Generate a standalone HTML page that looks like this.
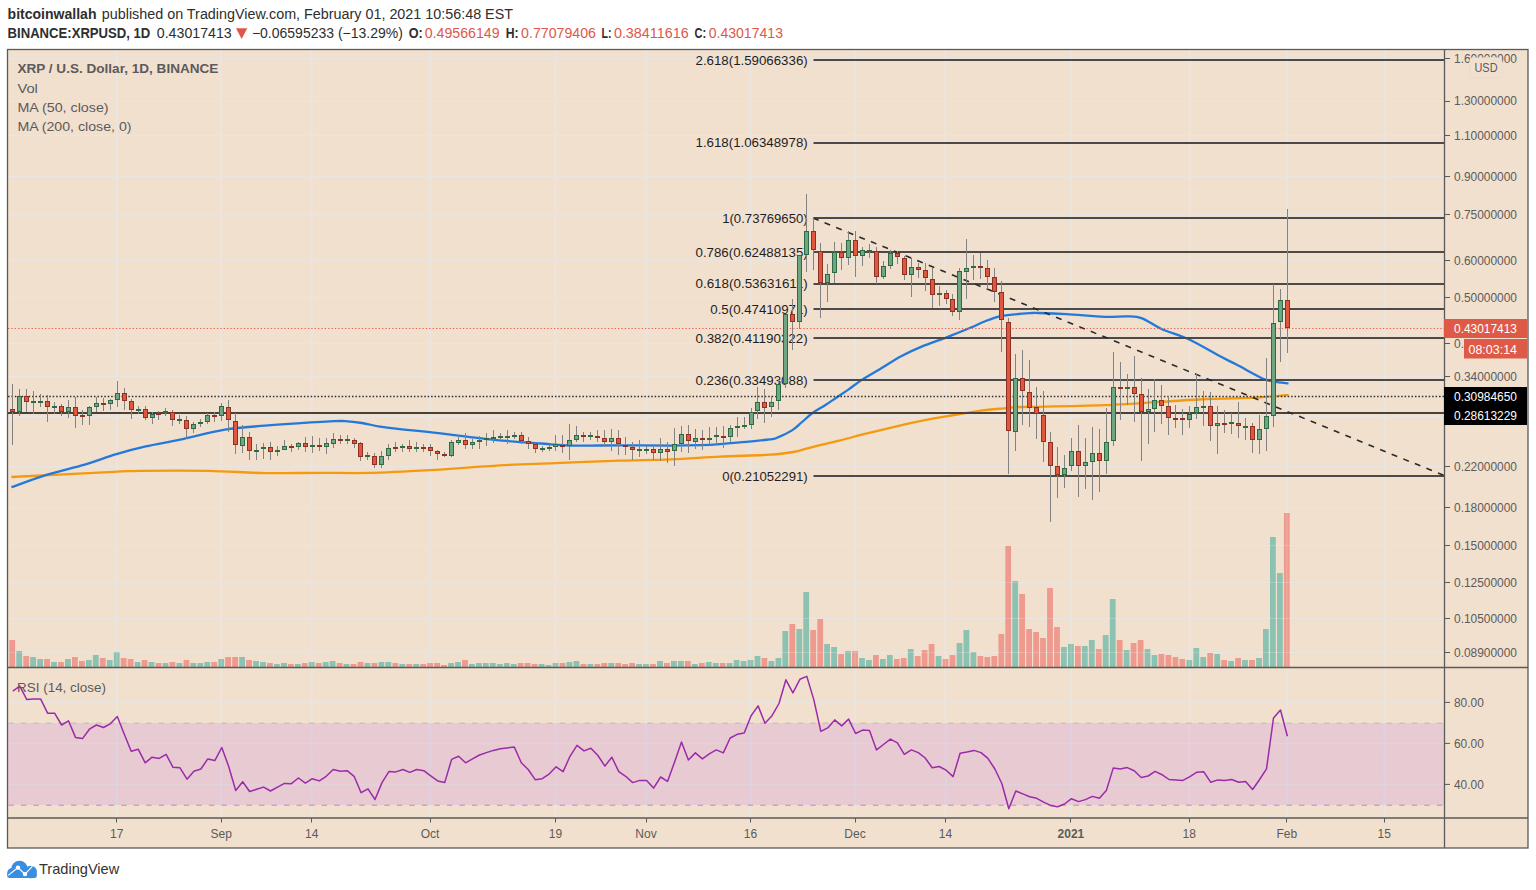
<!DOCTYPE html><html><head><meta charset="utf-8"><title>XRPUSD chart</title><style>html,body{margin:0;padding:0;background:#fff;width:1536px;height:890px;overflow:hidden}</style></head><body><svg width="1536" height="890" viewBox="0 0 1536 890" style="display:block">
<rect x="0" y="0" width="1536" height="890" fill="#ffffff"/>
<rect x="7" y="49" width="1521" height="799" fill="#f2e0cf"/>
<defs><clipPath id="pane1"><rect x="8" y="50" width="1436" height="617"/></clipPath><clipPath id="pane2"><rect x="8" y="668" width="1436" height="150"/></clipPath></defs>
<path d="M8 58.5H1444 M8 101.5H1444 M8 135.5H1444 M8 176.5H1444 M8 214.5H1444 M8 260.5H1444 M8 297.5H1444 M8 343.5H1444 M8 376.5H1444 M8 416.5H1444 M8 466.5H1444 M8 507.5H1444 M8 545.5H1444 M8 582.5H1444 M8 618.5H1444 M8 652.5H1444 M8 702.5H1444 M8 743.5H1444 M8 784.5H1444" stroke="#e9e5e2" stroke-width="1.1" fill="none"/>
<path d="M116.80 50V818 M221.30 50V818 M311.80 50V818 M430.20 50V818 M555.60 50V818 M646.10 50V818 M750.60 50V818 M855.10 50V818 M945.60 50V818 M1071.00 50V818 M1189.40 50V818 M1286.90 50V818 M1384.40 50V818" stroke="#e9e5e2" stroke-width="1.7" fill="none"/>
<rect x="8" y="723" width="1436" height="82" fill="#e8cad2"/>
<path d="M116.80 723V805" stroke="#ddd2e2" stroke-width="1.7"/>
<path d="M221.30 723V805" stroke="#ddd2e2" stroke-width="1.7"/>
<path d="M311.80 723V805" stroke="#ddd2e2" stroke-width="1.7"/>
<path d="M430.20 723V805" stroke="#ddd2e2" stroke-width="1.7"/>
<path d="M555.60 723V805" stroke="#ddd2e2" stroke-width="1.7"/>
<path d="M646.10 723V805" stroke="#ddd2e2" stroke-width="1.7"/>
<path d="M750.60 723V805" stroke="#ddd2e2" stroke-width="1.7"/>
<path d="M855.10 723V805" stroke="#ddd2e2" stroke-width="1.7"/>
<path d="M945.60 723V805" stroke="#ddd2e2" stroke-width="1.7"/>
<path d="M1071.00 723V805" stroke="#ddd2e2" stroke-width="1.7"/>
<path d="M1189.40 723V805" stroke="#ddd2e2" stroke-width="1.7"/>
<path d="M1286.90 723V805" stroke="#ddd2e2" stroke-width="1.7"/>
<path d="M1384.40 723V805" stroke="#ddd2e2" stroke-width="1.7"/>
<path d="M8 743.5H1444" stroke="#e2d2dc" stroke-width="1.3"/>
<path d="M8 784.5H1444" stroke="#e2d2dc" stroke-width="1.3"/>
<path d="M8.4 723.2H1444" stroke="#c9c3bf" stroke-width="1.6" stroke-dasharray="5.4 7.13"/>
<path d="M8.4 805.3H1444" stroke="#c9a2d2" stroke-width="1.6" stroke-dasharray="5.4 7.13"/>
<g clip-path="url(#pane1)">
<rect x="9.3" y="640.0" width="5.8" height="27.0" fill="#ee9a8e"/>
<rect x="16.3" y="651.0" width="5.8" height="16.0" fill="#8cc2b1"/>
<rect x="23.3" y="656.0" width="5.8" height="11.0" fill="#ee9a8e"/>
<rect x="30.2" y="657.0" width="5.8" height="10.0" fill="#8cc2b1"/>
<rect x="37.2" y="659.0" width="5.8" height="8.0" fill="#8cc2b1"/>
<rect x="44.1" y="659.0" width="5.8" height="8.0" fill="#ee9a8e"/>
<rect x="51.1" y="662.0" width="5.8" height="5.0" fill="#8cc2b1"/>
<rect x="58.1" y="662.0" width="5.8" height="5.0" fill="#ee9a8e"/>
<rect x="65.0" y="659.0" width="5.8" height="8.0" fill="#8cc2b1"/>
<rect x="72.0" y="657.0" width="5.8" height="10.0" fill="#ee9a8e"/>
<rect x="79.0" y="661.0" width="5.8" height="6.0" fill="#ee9a8e"/>
<rect x="85.9" y="660.0" width="5.8" height="7.0" fill="#8cc2b1"/>
<rect x="92.9" y="655.0" width="5.8" height="12.0" fill="#8cc2b1"/>
<rect x="99.9" y="658.0" width="5.8" height="9.0" fill="#ee9a8e"/>
<rect x="106.8" y="660.0" width="5.8" height="7.0" fill="#8cc2b1"/>
<rect x="113.8" y="652.0" width="5.8" height="15.0" fill="#8cc2b1"/>
<rect x="120.8" y="658.0" width="5.8" height="9.0" fill="#ee9a8e"/>
<rect x="127.7" y="659.0" width="5.8" height="8.0" fill="#ee9a8e"/>
<rect x="134.7" y="662.0" width="5.8" height="5.0" fill="#8cc2b1"/>
<rect x="141.7" y="660.0" width="5.8" height="7.0" fill="#ee9a8e"/>
<rect x="148.6" y="662.0" width="5.8" height="5.0" fill="#8cc2b1"/>
<rect x="155.6" y="663.0" width="5.8" height="4.0" fill="#ee9a8e"/>
<rect x="162.6" y="663.0" width="5.8" height="4.0" fill="#8cc2b1"/>
<rect x="169.5" y="662.0" width="5.8" height="5.0" fill="#ee9a8e"/>
<rect x="176.5" y="663.0" width="5.8" height="4.0" fill="#8cc2b1"/>
<rect x="183.5" y="660.0" width="5.8" height="7.0" fill="#ee9a8e"/>
<rect x="190.4" y="663.0" width="5.8" height="4.0" fill="#8cc2b1"/>
<rect x="197.4" y="663.0" width="5.8" height="4.0" fill="#8cc2b1"/>
<rect x="204.3" y="662.0" width="5.8" height="5.0" fill="#8cc2b1"/>
<rect x="211.3" y="662.0" width="5.8" height="5.0" fill="#ee9a8e"/>
<rect x="218.3" y="659.0" width="5.8" height="8.0" fill="#8cc2b1"/>
<rect x="225.2" y="657.0" width="5.8" height="10.0" fill="#ee9a8e"/>
<rect x="232.2" y="657.0" width="5.8" height="10.0" fill="#ee9a8e"/>
<rect x="239.2" y="657.0" width="5.8" height="10.0" fill="#8cc2b1"/>
<rect x="246.1" y="660.0" width="5.8" height="7.0" fill="#ee9a8e"/>
<rect x="253.1" y="661.0" width="5.8" height="6.0" fill="#8cc2b1"/>
<rect x="260.1" y="662.0" width="5.8" height="5.0" fill="#8cc2b1"/>
<rect x="267.0" y="663.0" width="5.8" height="4.0" fill="#ee9a8e"/>
<rect x="274.0" y="664.0" width="5.8" height="3.0" fill="#8cc2b1"/>
<rect x="281.0" y="663.0" width="5.8" height="4.0" fill="#8cc2b1"/>
<rect x="287.9" y="664.0" width="5.8" height="3.0" fill="#ee9a8e"/>
<rect x="294.9" y="664.0" width="5.8" height="3.0" fill="#8cc2b1"/>
<rect x="301.9" y="663.0" width="5.8" height="4.0" fill="#ee9a8e"/>
<rect x="308.8" y="662.0" width="5.8" height="5.0" fill="#8cc2b1"/>
<rect x="315.8" y="663.0" width="5.8" height="4.0" fill="#ee9a8e"/>
<rect x="322.8" y="662.0" width="5.8" height="5.0" fill="#8cc2b1"/>
<rect x="329.7" y="661.0" width="5.8" height="6.0" fill="#8cc2b1"/>
<rect x="336.7" y="663.0" width="5.8" height="4.0" fill="#ee9a8e"/>
<rect x="343.6" y="664.0" width="5.8" height="3.0" fill="#8cc2b1"/>
<rect x="350.6" y="664.0" width="5.8" height="3.0" fill="#ee9a8e"/>
<rect x="357.6" y="662.0" width="5.8" height="5.0" fill="#ee9a8e"/>
<rect x="364.5" y="663.0" width="5.8" height="4.0" fill="#8cc2b1"/>
<rect x="371.5" y="663.0" width="5.8" height="4.0" fill="#ee9a8e"/>
<rect x="378.5" y="662.0" width="5.8" height="5.0" fill="#8cc2b1"/>
<rect x="385.4" y="662.0" width="5.8" height="5.0" fill="#8cc2b1"/>
<rect x="392.4" y="663.0" width="5.8" height="4.0" fill="#ee9a8e"/>
<rect x="399.4" y="664.0" width="5.8" height="3.0" fill="#8cc2b1"/>
<rect x="406.3" y="664.0" width="5.8" height="3.0" fill="#ee9a8e"/>
<rect x="413.3" y="664.0" width="5.8" height="3.0" fill="#8cc2b1"/>
<rect x="420.3" y="664.0" width="5.8" height="3.0" fill="#ee9a8e"/>
<rect x="427.2" y="663.0" width="5.8" height="4.0" fill="#ee9a8e"/>
<rect x="434.2" y="663.0" width="5.8" height="4.0" fill="#ee9a8e"/>
<rect x="441.2" y="665.0" width="5.8" height="2.0" fill="#ee9a8e"/>
<rect x="448.1" y="663.0" width="5.8" height="4.0" fill="#8cc2b1"/>
<rect x="455.1" y="662.0" width="5.8" height="5.0" fill="#8cc2b1"/>
<rect x="462.1" y="660.0" width="5.8" height="7.0" fill="#ee9a8e"/>
<rect x="469.0" y="664.0" width="5.8" height="3.0" fill="#8cc2b1"/>
<rect x="476.0" y="663.0" width="5.8" height="4.0" fill="#8cc2b1"/>
<rect x="482.9" y="663.0" width="5.8" height="4.0" fill="#8cc2b1"/>
<rect x="489.9" y="663.0" width="5.8" height="4.0" fill="#8cc2b1"/>
<rect x="496.9" y="664.0" width="5.8" height="3.0" fill="#8cc2b1"/>
<rect x="503.8" y="663.0" width="5.8" height="4.0" fill="#8cc2b1"/>
<rect x="510.8" y="664.0" width="5.8" height="3.0" fill="#8cc2b1"/>
<rect x="517.8" y="663.0" width="5.8" height="4.0" fill="#ee9a8e"/>
<rect x="524.7" y="663.0" width="5.8" height="4.0" fill="#ee9a8e"/>
<rect x="531.7" y="664.0" width="5.8" height="3.0" fill="#ee9a8e"/>
<rect x="538.7" y="664.0" width="5.8" height="3.0" fill="#8cc2b1"/>
<rect x="545.6" y="665.0" width="5.8" height="2.0" fill="#8cc2b1"/>
<rect x="552.6" y="663.0" width="5.8" height="4.0" fill="#8cc2b1"/>
<rect x="559.6" y="663.0" width="5.8" height="4.0" fill="#ee9a8e"/>
<rect x="566.5" y="662.0" width="5.8" height="5.0" fill="#8cc2b1"/>
<rect x="573.5" y="661.0" width="5.8" height="6.0" fill="#8cc2b1"/>
<rect x="580.5" y="664.0" width="5.8" height="3.0" fill="#ee9a8e"/>
<rect x="587.4" y="664.0" width="5.8" height="3.0" fill="#8cc2b1"/>
<rect x="594.4" y="664.0" width="5.8" height="3.0" fill="#ee9a8e"/>
<rect x="601.4" y="663.0" width="5.8" height="4.0" fill="#ee9a8e"/>
<rect x="608.3" y="663.0" width="5.8" height="4.0" fill="#8cc2b1"/>
<rect x="615.3" y="663.0" width="5.8" height="4.0" fill="#ee9a8e"/>
<rect x="622.2" y="664.0" width="5.8" height="3.0" fill="#ee9a8e"/>
<rect x="629.2" y="663.0" width="5.8" height="4.0" fill="#ee9a8e"/>
<rect x="636.2" y="664.0" width="5.8" height="3.0" fill="#8cc2b1"/>
<rect x="643.1" y="664.0" width="5.8" height="3.0" fill="#8cc2b1"/>
<rect x="650.1" y="664.0" width="5.8" height="3.0" fill="#ee9a8e"/>
<rect x="657.1" y="661.0" width="5.8" height="6.0" fill="#8cc2b1"/>
<rect x="664.0" y="663.0" width="5.8" height="4.0" fill="#ee9a8e"/>
<rect x="671.0" y="661.0" width="5.8" height="6.0" fill="#8cc2b1"/>
<rect x="678.0" y="661.0" width="5.8" height="6.0" fill="#8cc2b1"/>
<rect x="684.9" y="661.0" width="5.8" height="6.0" fill="#ee9a8e"/>
<rect x="691.9" y="664.0" width="5.8" height="3.0" fill="#8cc2b1"/>
<rect x="698.9" y="663.0" width="5.8" height="4.0" fill="#ee9a8e"/>
<rect x="705.8" y="662.0" width="5.8" height="5.0" fill="#8cc2b1"/>
<rect x="712.8" y="663.0" width="5.8" height="4.0" fill="#8cc2b1"/>
<rect x="719.8" y="663.0" width="5.8" height="4.0" fill="#ee9a8e"/>
<rect x="726.7" y="663.0" width="5.8" height="4.0" fill="#8cc2b1"/>
<rect x="733.7" y="660.0" width="5.8" height="7.0" fill="#8cc2b1"/>
<rect x="740.7" y="661.0" width="5.8" height="6.0" fill="#8cc2b1"/>
<rect x="747.6" y="660.0" width="5.8" height="7.0" fill="#8cc2b1"/>
<rect x="754.6" y="656.0" width="5.8" height="11.0" fill="#8cc2b1"/>
<rect x="761.5" y="658.0" width="5.8" height="9.0" fill="#ee9a8e"/>
<rect x="768.5" y="661.0" width="5.8" height="6.0" fill="#8cc2b1"/>
<rect x="775.5" y="658.0" width="5.8" height="9.0" fill="#8cc2b1"/>
<rect x="782.4" y="631.0" width="5.8" height="36.0" fill="#8cc2b1"/>
<rect x="789.4" y="624.0" width="5.8" height="43.0" fill="#ee9a8e"/>
<rect x="796.4" y="629.0" width="5.8" height="38.0" fill="#8cc2b1"/>
<rect x="803.3" y="592.0" width="5.8" height="75.0" fill="#8cc2b1"/>
<rect x="810.3" y="630.0" width="5.8" height="37.0" fill="#ee9a8e"/>
<rect x="817.3" y="619.0" width="5.8" height="48.0" fill="#ee9a8e"/>
<rect x="824.2" y="644.0" width="5.8" height="23.0" fill="#8cc2b1"/>
<rect x="831.2" y="647.0" width="5.8" height="20.0" fill="#8cc2b1"/>
<rect x="838.2" y="654.0" width="5.8" height="13.0" fill="#ee9a8e"/>
<rect x="845.1" y="651.0" width="5.8" height="16.0" fill="#8cc2b1"/>
<rect x="852.1" y="651.0" width="5.8" height="16.0" fill="#ee9a8e"/>
<rect x="859.1" y="658.0" width="5.8" height="9.0" fill="#8cc2b1"/>
<rect x="866.0" y="660.0" width="5.8" height="7.0" fill="#8cc2b1"/>
<rect x="873.0" y="655.0" width="5.8" height="12.0" fill="#ee9a8e"/>
<rect x="880.0" y="659.0" width="5.8" height="8.0" fill="#8cc2b1"/>
<rect x="886.9" y="655.0" width="5.8" height="12.0" fill="#8cc2b1"/>
<rect x="893.9" y="659.0" width="5.8" height="8.0" fill="#ee9a8e"/>
<rect x="900.8" y="658.0" width="5.8" height="9.0" fill="#ee9a8e"/>
<rect x="907.8" y="649.0" width="5.8" height="18.0" fill="#8cc2b1"/>
<rect x="914.8" y="656.0" width="5.8" height="11.0" fill="#ee9a8e"/>
<rect x="921.7" y="650.0" width="5.8" height="17.0" fill="#ee9a8e"/>
<rect x="928.7" y="644.0" width="5.8" height="23.0" fill="#ee9a8e"/>
<rect x="935.7" y="656.0" width="5.8" height="11.0" fill="#8cc2b1"/>
<rect x="942.6" y="659.0" width="5.8" height="8.0" fill="#ee9a8e"/>
<rect x="949.6" y="655.0" width="5.8" height="12.0" fill="#ee9a8e"/>
<rect x="956.6" y="643.0" width="5.8" height="24.0" fill="#8cc2b1"/>
<rect x="963.5" y="630.0" width="5.8" height="37.0" fill="#8cc2b1"/>
<rect x="970.5" y="652.0" width="5.8" height="15.0" fill="#8cc2b1"/>
<rect x="977.5" y="656.0" width="5.8" height="11.0" fill="#ee9a8e"/>
<rect x="984.4" y="657.0" width="5.8" height="10.0" fill="#ee9a8e"/>
<rect x="991.4" y="656.0" width="5.8" height="11.0" fill="#ee9a8e"/>
<rect x="998.4" y="634.0" width="5.8" height="33.0" fill="#ee9a8e"/>
<rect x="1005.3" y="546.0" width="5.8" height="121.0" fill="#ee9a8e"/>
<rect x="1012.3" y="581.0" width="5.8" height="86.0" fill="#8cc2b1"/>
<rect x="1019.2" y="594.0" width="5.8" height="73.0" fill="#ee9a8e"/>
<rect x="1026.2" y="629.0" width="5.8" height="38.0" fill="#ee9a8e"/>
<rect x="1033.2" y="632.0" width="5.8" height="35.0" fill="#ee9a8e"/>
<rect x="1040.1" y="638.0" width="5.8" height="29.0" fill="#ee9a8e"/>
<rect x="1047.1" y="588.0" width="5.8" height="79.0" fill="#ee9a8e"/>
<rect x="1054.1" y="627.0" width="5.8" height="40.0" fill="#ee9a8e"/>
<rect x="1061.0" y="647.0" width="5.8" height="20.0" fill="#8cc2b1"/>
<rect x="1068.0" y="644.0" width="5.8" height="23.0" fill="#8cc2b1"/>
<rect x="1075.0" y="646.0" width="5.8" height="21.0" fill="#ee9a8e"/>
<rect x="1081.9" y="646.0" width="5.8" height="21.0" fill="#8cc2b1"/>
<rect x="1088.9" y="640.0" width="5.8" height="27.0" fill="#8cc2b1"/>
<rect x="1095.9" y="649.0" width="5.8" height="18.0" fill="#ee9a8e"/>
<rect x="1102.8" y="635.0" width="5.8" height="32.0" fill="#8cc2b1"/>
<rect x="1109.8" y="599.0" width="5.8" height="68.0" fill="#8cc2b1"/>
<rect x="1116.8" y="640.0" width="5.8" height="27.0" fill="#ee9a8e"/>
<rect x="1123.7" y="650.0" width="5.8" height="17.0" fill="#8cc2b1"/>
<rect x="1130.7" y="643.0" width="5.8" height="24.0" fill="#ee9a8e"/>
<rect x="1137.7" y="640.0" width="5.8" height="27.0" fill="#ee9a8e"/>
<rect x="1144.6" y="649.0" width="5.8" height="18.0" fill="#8cc2b1"/>
<rect x="1151.6" y="655.0" width="5.8" height="12.0" fill="#8cc2b1"/>
<rect x="1158.5" y="654.0" width="5.8" height="13.0" fill="#ee9a8e"/>
<rect x="1165.5" y="655.0" width="5.8" height="12.0" fill="#ee9a8e"/>
<rect x="1172.5" y="657.0" width="5.8" height="10.0" fill="#ee9a8e"/>
<rect x="1179.4" y="659.0" width="5.8" height="8.0" fill="#ee9a8e"/>
<rect x="1186.4" y="660.0" width="5.8" height="7.0" fill="#8cc2b1"/>
<rect x="1193.4" y="648.0" width="5.8" height="19.0" fill="#8cc2b1"/>
<rect x="1200.3" y="657.0" width="5.8" height="10.0" fill="#8cc2b1"/>
<rect x="1207.3" y="653.0" width="5.8" height="14.0" fill="#ee9a8e"/>
<rect x="1214.3" y="654.0" width="5.8" height="13.0" fill="#8cc2b1"/>
<rect x="1221.2" y="660.0" width="5.8" height="7.0" fill="#ee9a8e"/>
<rect x="1228.2" y="661.0" width="5.8" height="6.0" fill="#8cc2b1"/>
<rect x="1235.2" y="658.0" width="5.8" height="9.0" fill="#ee9a8e"/>
<rect x="1242.1" y="660.0" width="5.8" height="7.0" fill="#8cc2b1"/>
<rect x="1249.1" y="660.0" width="5.8" height="7.0" fill="#ee9a8e"/>
<rect x="1256.1" y="658.0" width="5.8" height="9.0" fill="#8cc2b1"/>
<rect x="1263.0" y="629.0" width="5.8" height="38.0" fill="#8cc2b1"/>
<rect x="1270.0" y="537.0" width="5.8" height="130.0" fill="#8cc2b1"/>
<rect x="1277.0" y="573.0" width="5.8" height="94.0" fill="#8cc2b1"/>
<rect x="1283.9" y="513.0" width="5.8" height="154.0" fill="#ee9a8e"/>
<path d="M8 507.5H1444 M8 545.5H1444 M8 582.5H1444 M8 618.5H1444 M8 652.5H1444 M116.80 500V667 M221.30 500V667 M311.80 500V667 M430.20 500V667 M555.60 500V667 M646.10 500V667 M750.60 500V667 M855.10 500V667 M945.60 500V667 M1071.00 500V667 M1189.40 500V667 M1286.90 500V667 M1384.40 500V667" stroke="#ece6e2" stroke-width="1" opacity="0.3" fill="none"/>
<path d="M11.4 477.0 C28.4 476.1 91.8 472.9 113.3 471.9 C134.8 470.9 124.6 471.0 140.4 470.8 C156.2 470.6 187.3 470.4 208.1 470.8 C228.9 471.2 246.3 472.8 265.0 473.1 C283.6 473.4 302.5 472.8 320.0 472.8 C337.5 472.8 351.7 473.3 370.0 472.9 C388.3 472.5 408.3 471.4 430.0 470.2 C451.7 468.9 479.2 466.6 500.0 465.4 C520.8 464.2 535.0 464.0 555.0 463.2 C575.0 462.4 600.7 461.3 620.0 460.7 C639.3 460.1 654.3 460.0 671.0 459.3 C687.7 458.6 703.5 457.4 720.0 456.6 C736.5 455.8 757.8 455.5 770.0 454.7 C782.2 453.9 785.6 453.5 793.4 452.0 C801.2 450.5 809.1 447.8 816.9 445.8 C824.7 443.9 832.5 442.2 840.3 440.3 C848.1 438.4 856.0 436.1 863.8 434.1 C871.6 432.2 879.4 430.4 887.2 428.6 C895.0 426.8 902.8 424.8 910.6 423.1 C918.4 421.4 926.2 419.8 934.0 418.4 C941.8 417.0 949.7 415.8 957.5 414.5 C965.3 413.2 973.1 411.6 980.9 410.6 C988.7 409.6 997.9 408.9 1004.4 408.3 C1010.9 407.7 1003.3 407.5 1020.0 407.0 C1036.7 406.5 1074.6 406.4 1104.4 405.2 C1134.2 403.9 1173.6 400.8 1198.8 399.5 C1224.0 398.2 1240.5 398.4 1255.4 397.6 C1270.4 396.8 1283.0 395.3 1288.5 394.8" stroke="#f5990f" stroke-width="2.3" fill="none" stroke-linejoin="round"/>
<path d="M11.4 487.2 C17.4 485.1 35.0 478.4 47.2 474.6 C59.4 470.8 73.2 468.0 84.7 464.6 C96.2 461.2 106.2 457.1 116.4 454.1 C126.6 451.1 135.1 448.8 145.7 446.4 C156.3 444.0 166.8 442.5 180.0 439.7 C193.2 436.9 210.8 431.9 225.0 429.6 C239.2 427.3 250.7 426.9 265.0 425.7 C279.3 424.5 300.2 423.1 311.0 422.4 C321.8 421.7 324.3 421.6 330.0 421.4 C335.7 421.2 339.7 420.8 345.0 421.1 C350.3 421.4 356.2 422.1 362.0 423.0 C367.8 423.9 373.7 425.6 380.0 426.6 C386.3 427.6 391.7 428.3 400.0 429.2 C408.3 430.1 415.0 430.5 430.0 432.2 C445.0 433.9 471.6 437.5 490.0 439.4 C508.4 441.3 526.5 442.5 540.5 443.5 C554.5 444.5 560.8 445.3 574.0 445.6 C587.2 445.9 603.8 445.3 620.0 445.3 C636.2 445.3 657.5 445.6 671.0 445.6 C684.5 445.6 692.8 445.4 701.0 445.2 C709.2 444.9 713.5 444.6 720.0 444.1 C726.5 443.6 731.7 443.2 740.0 442.4 C748.3 441.6 763.7 440.2 770.0 439.4 C776.3 438.6 774.2 438.9 777.9 437.4 C781.6 435.9 788.1 432.9 792.0 430.4 C795.9 427.9 798.1 425.4 801.5 422.5 C804.9 419.6 808.6 415.9 812.5 413.0 C816.4 410.1 821.0 407.8 825.1 405.2 C829.2 402.6 833.0 399.9 836.9 397.3 C840.8 394.7 844.4 392.4 848.7 389.4 C853.0 386.4 857.0 383.0 862.6 379.4 C868.2 375.8 875.6 371.6 882.1 367.7 C888.6 363.8 895.1 359.5 901.6 356.0 C908.1 352.5 913.5 350.0 921.1 346.9 C928.7 343.8 939.6 340.0 947.2 337.1 C954.8 334.2 960.2 332.0 966.7 329.3 C973.2 326.6 980.9 323.0 986.3 320.8 C991.7 318.6 995.0 317.3 999.3 316.3 C1003.6 315.3 1007.2 315.1 1012.3 314.6 C1017.4 314.1 1025.7 313.5 1030.0 313.2 C1034.3 312.9 1032.2 312.8 1038.3 313.0 C1044.4 313.2 1055.6 313.6 1066.6 314.2 C1077.6 314.8 1094.3 316.4 1104.4 316.8 C1114.5 317.2 1120.7 316.1 1127.0 316.4 C1133.3 316.6 1136.5 316.2 1142.2 318.3 C1147.9 320.4 1153.2 325.2 1161.0 328.7 C1168.8 332.2 1179.8 335.1 1189.3 339.5 C1198.8 343.9 1209.8 350.9 1217.7 355.1 C1225.6 359.3 1229.0 360.7 1236.5 364.6 C1244.0 368.5 1256.7 375.9 1263.0 378.7 C1269.3 381.5 1270.0 380.8 1274.3 381.6 C1278.5 382.4 1286.1 383.1 1288.5 383.4" stroke="#2279da" stroke-width="2.3" fill="none" stroke-linejoin="round"/>
<path d="M8 413H1444" stroke="#46413e" stroke-width="2"/>
<path d="M8 396.5H1444" stroke="#2e2e2e" stroke-width="1.4" stroke-dasharray="1.5 1.94"/>
<path d="M8 328.5H1444" stroke="#e4604e" stroke-width="1.2" stroke-dasharray="1.3 2.07"/>
<path d="M813.5 60H1444" stroke="#4b4a49" stroke-width="2"/>
<text x="695.5" y="64.6" font-family='"Liberation Sans", sans-serif' font-size="12.6" fill="#1e1e1e" textLength="112.2" lengthAdjust="spacingAndGlyphs">2.618(1.59066336)</text>
<path d="M813.5 143H1444" stroke="#4b4a49" stroke-width="2"/>
<text x="695.5" y="147.4" font-family='"Liberation Sans", sans-serif' font-size="12.6" fill="#1e1e1e" textLength="112.2" lengthAdjust="spacingAndGlyphs">1.618(1.06348978)</text>
<path d="M813.5 218H1444" stroke="#4b4a49" stroke-width="2"/>
<text x="722.2" y="222.7" font-family='"Liberation Sans", sans-serif' font-size="12.6" fill="#1e1e1e" textLength="85.5" lengthAdjust="spacingAndGlyphs">1(0.73769650)</text>
<path d="M813.5 252H1444" stroke="#4b4a49" stroke-width="2"/>
<text x="695.5" y="256.8" font-family='"Liberation Sans", sans-serif' font-size="12.6" fill="#1e1e1e" textLength="112.2" lengthAdjust="spacingAndGlyphs">0.786(0.62488135)</text>
<path d="M813.5 284H1444" stroke="#4b4a49" stroke-width="2"/>
<text x="695.5" y="288.2" font-family='"Liberation Sans", sans-serif' font-size="12.6" fill="#1e1e1e" textLength="112.2" lengthAdjust="spacingAndGlyphs">0.618(0.53631611)</text>
<path d="M813.5 309H1444" stroke="#4b4a49" stroke-width="2"/>
<text x="710.3" y="313.6" font-family='"Liberation Sans", sans-serif' font-size="12.6" fill="#1e1e1e" textLength="97.4" lengthAdjust="spacingAndGlyphs">0.5(0.47410971)</text>
<path d="M813.5 338H1444" stroke="#4b4a49" stroke-width="2"/>
<text x="695.5" y="342.5" font-family='"Liberation Sans", sans-serif' font-size="12.6" fill="#1e1e1e" textLength="112.2" lengthAdjust="spacingAndGlyphs">0.382(0.41190322)</text>
<path d="M813.5 380H1444" stroke="#4b4a49" stroke-width="2"/>
<text x="695.5" y="385.1" font-family='"Liberation Sans", sans-serif' font-size="12.6" fill="#1e1e1e" textLength="112.2" lengthAdjust="spacingAndGlyphs">0.236(0.33493088)</text>
<path d="M813.5 476H1444" stroke="#4b4a49" stroke-width="2"/>
<text x="722.2" y="480.6" font-family='"Liberation Sans", sans-serif' font-size="12.6" fill="#1e1e1e" textLength="85.5" lengthAdjust="spacingAndGlyphs">0(0.21052291)</text>
<path d="M813 218L1444 475.5" stroke="#2b2b2b" stroke-width="1.6" stroke-dasharray="6 6.5"/>
<path d="M12.5 384V445" stroke="#828282" stroke-width="1"/>
<path d="M19.5 389V416" stroke="#828282" stroke-width="1"/>
<path d="M26.5 389V412" stroke="#828282" stroke-width="1"/>
<path d="M33.5 391V414" stroke="#828282" stroke-width="1"/>
<path d="M40.5 394V407" stroke="#828282" stroke-width="1"/>
<path d="M47.5 395V422" stroke="#828282" stroke-width="1"/>
<path d="M54.5 402V414" stroke="#828282" stroke-width="1"/>
<path d="M61.5 404V416" stroke="#828282" stroke-width="1"/>
<path d="M68.5 400V418" stroke="#828282" stroke-width="1"/>
<path d="M75.5 397V428" stroke="#828282" stroke-width="1"/>
<path d="M82.5 410V425" stroke="#828282" stroke-width="1"/>
<path d="M89.5 406V425" stroke="#828282" stroke-width="1"/>
<path d="M96.5 397V412" stroke="#828282" stroke-width="1"/>
<path d="M103.5 398V411" stroke="#828282" stroke-width="1"/>
<path d="M110.5 399V410" stroke="#828282" stroke-width="1"/>
<path d="M117.5 381V407" stroke="#828282" stroke-width="1"/>
<path d="M124.5 388V410" stroke="#828282" stroke-width="1"/>
<path d="M131.5 399V419" stroke="#828282" stroke-width="1"/>
<path d="M138.5 406V414" stroke="#828282" stroke-width="1"/>
<path d="M145.5 406V420" stroke="#828282" stroke-width="1"/>
<path d="M152.5 412V424" stroke="#828282" stroke-width="1"/>
<path d="M158.5 411V420" stroke="#828282" stroke-width="1"/>
<path d="M165.5 408V416" stroke="#828282" stroke-width="1"/>
<path d="M172.5 410V426" stroke="#828282" stroke-width="1"/>
<path d="M179.5 415V424" stroke="#828282" stroke-width="1"/>
<path d="M186.5 416V439" stroke="#828282" stroke-width="1"/>
<path d="M193.5 422V433" stroke="#828282" stroke-width="1"/>
<path d="M200.5 419V427" stroke="#828282" stroke-width="1"/>
<path d="M207.5 413V424" stroke="#828282" stroke-width="1"/>
<path d="M214.5 412V422" stroke="#828282" stroke-width="1"/>
<path d="M221.5 403V421" stroke="#828282" stroke-width="1"/>
<path d="M228.5 400V432" stroke="#828282" stroke-width="1"/>
<path d="M235.5 413V454" stroke="#828282" stroke-width="1"/>
<path d="M242.5 425V453" stroke="#828282" stroke-width="1"/>
<path d="M249.5 432V460" stroke="#828282" stroke-width="1"/>
<path d="M256.5 444V460" stroke="#828282" stroke-width="1"/>
<path d="M263.5 443V459" stroke="#828282" stroke-width="1"/>
<path d="M270.5 442V460" stroke="#828282" stroke-width="1"/>
<path d="M277.5 446V456" stroke="#828282" stroke-width="1"/>
<path d="M284.5 440V450" stroke="#828282" stroke-width="1"/>
<path d="M291.5 444V452" stroke="#828282" stroke-width="1"/>
<path d="M298.5 442V450" stroke="#828282" stroke-width="1"/>
<path d="M305.5 437V452" stroke="#828282" stroke-width="1"/>
<path d="M312.5 436V453" stroke="#828282" stroke-width="1"/>
<path d="M319.5 438V451" stroke="#828282" stroke-width="1"/>
<path d="M326.5 438V454" stroke="#828282" stroke-width="1"/>
<path d="M333.5 433V448" stroke="#828282" stroke-width="1"/>
<path d="M340.5 435V444" stroke="#828282" stroke-width="1"/>
<path d="M347.5 435V444" stroke="#828282" stroke-width="1"/>
<path d="M354.5 438V448" stroke="#828282" stroke-width="1"/>
<path d="M360.5 442V461" stroke="#828282" stroke-width="1"/>
<path d="M367.5 452V460" stroke="#828282" stroke-width="1"/>
<path d="M374.5 453V468" stroke="#828282" stroke-width="1"/>
<path d="M381.5 451V468" stroke="#828282" stroke-width="1"/>
<path d="M388.5 444V460" stroke="#828282" stroke-width="1"/>
<path d="M395.5 442V452" stroke="#828282" stroke-width="1"/>
<path d="M402.5 444V452" stroke="#828282" stroke-width="1"/>
<path d="M409.5 440V452" stroke="#828282" stroke-width="1"/>
<path d="M416.5 442V452" stroke="#828282" stroke-width="1"/>
<path d="M423.5 444V452" stroke="#828282" stroke-width="1"/>
<path d="M430.5 444V456" stroke="#828282" stroke-width="1"/>
<path d="M437.5 450V460" stroke="#828282" stroke-width="1"/>
<path d="M444.5 452V457" stroke="#828282" stroke-width="1"/>
<path d="M451.5 440V457" stroke="#828282" stroke-width="1"/>
<path d="M458.5 435V445" stroke="#828282" stroke-width="1"/>
<path d="M465.5 433V449" stroke="#828282" stroke-width="1"/>
<path d="M472.5 439V449" stroke="#828282" stroke-width="1"/>
<path d="M479.5 436V449" stroke="#828282" stroke-width="1"/>
<path d="M486.5 433V446" stroke="#828282" stroke-width="1"/>
<path d="M493.5 430V443" stroke="#828282" stroke-width="1"/>
<path d="M500.5 433V439" stroke="#828282" stroke-width="1"/>
<path d="M507.5 430V444" stroke="#828282" stroke-width="1"/>
<path d="M514.5 432V439" stroke="#828282" stroke-width="1"/>
<path d="M521.5 432V444" stroke="#828282" stroke-width="1"/>
<path d="M528.5 437V449" stroke="#828282" stroke-width="1"/>
<path d="M535.5 443V453" stroke="#828282" stroke-width="1"/>
<path d="M542.5 446V452" stroke="#828282" stroke-width="1"/>
<path d="M549.5 445V451" stroke="#828282" stroke-width="1"/>
<path d="M555.5 435V451" stroke="#828282" stroke-width="1"/>
<path d="M562.5 435V453" stroke="#828282" stroke-width="1"/>
<path d="M569.5 424V460" stroke="#828282" stroke-width="1"/>
<path d="M576.5 426V442" stroke="#828282" stroke-width="1"/>
<path d="M583.5 432V442" stroke="#828282" stroke-width="1"/>
<path d="M590.5 432V440" stroke="#828282" stroke-width="1"/>
<path d="M597.5 430V442" stroke="#828282" stroke-width="1"/>
<path d="M604.5 430V447" stroke="#828282" stroke-width="1"/>
<path d="M611.5 429V451" stroke="#828282" stroke-width="1"/>
<path d="M618.5 430V455" stroke="#828282" stroke-width="1"/>
<path d="M625.5 437V455" stroke="#828282" stroke-width="1"/>
<path d="M632.5 442V460" stroke="#828282" stroke-width="1"/>
<path d="M639.5 440V457" stroke="#828282" stroke-width="1"/>
<path d="M646.5 446V454" stroke="#828282" stroke-width="1"/>
<path d="M653.5 444V460" stroke="#828282" stroke-width="1"/>
<path d="M660.5 438V461" stroke="#828282" stroke-width="1"/>
<path d="M667.5 442V463" stroke="#828282" stroke-width="1"/>
<path d="M674.5 428V466" stroke="#828282" stroke-width="1"/>
<path d="M681.5 426V452" stroke="#828282" stroke-width="1"/>
<path d="M688.5 425V453" stroke="#828282" stroke-width="1"/>
<path d="M695.5 429V449" stroke="#828282" stroke-width="1"/>
<path d="M702.5 430V450" stroke="#828282" stroke-width="1"/>
<path d="M709.5 427V445" stroke="#828282" stroke-width="1"/>
<path d="M716.5 427V443" stroke="#828282" stroke-width="1"/>
<path d="M723.5 426V448" stroke="#828282" stroke-width="1"/>
<path d="M730.5 425V442" stroke="#828282" stroke-width="1"/>
<path d="M737.5 417V437" stroke="#828282" stroke-width="1"/>
<path d="M744.5 417V429" stroke="#828282" stroke-width="1"/>
<path d="M751.5 408V429" stroke="#828282" stroke-width="1"/>
<path d="M757.5 387V419" stroke="#828282" stroke-width="1"/>
<path d="M764.5 389V423" stroke="#828282" stroke-width="1"/>
<path d="M771.5 396V417" stroke="#828282" stroke-width="1"/>
<path d="M778.5 380V410" stroke="#828282" stroke-width="1"/>
<path d="M785.5 314V388" stroke="#828282" stroke-width="1"/>
<path d="M792.5 299V350" stroke="#828282" stroke-width="1"/>
<path d="M799.5 255V329" stroke="#828282" stroke-width="1"/>
<path d="M806.5 194V272" stroke="#828282" stroke-width="1"/>
<path d="M813.5 217V270" stroke="#828282" stroke-width="1"/>
<path d="M820.5 243V318" stroke="#828282" stroke-width="1"/>
<path d="M827.5 264V302" stroke="#828282" stroke-width="1"/>
<path d="M834.5 242V283" stroke="#828282" stroke-width="1"/>
<path d="M841.5 243V270" stroke="#828282" stroke-width="1"/>
<path d="M848.5 231V265" stroke="#828282" stroke-width="1"/>
<path d="M855.5 231V277" stroke="#828282" stroke-width="1"/>
<path d="M862.5 247V266" stroke="#828282" stroke-width="1"/>
<path d="M869.5 244V258" stroke="#828282" stroke-width="1"/>
<path d="M876.5 247V284" stroke="#828282" stroke-width="1"/>
<path d="M883.5 261V279" stroke="#828282" stroke-width="1"/>
<path d="M890.5 250V269" stroke="#828282" stroke-width="1"/>
<path d="M897.5 251V264" stroke="#828282" stroke-width="1"/>
<path d="M904.5 256V280" stroke="#828282" stroke-width="1"/>
<path d="M911.5 258V297" stroke="#828282" stroke-width="1"/>
<path d="M918.5 263V278" stroke="#828282" stroke-width="1"/>
<path d="M925.5 263V291" stroke="#828282" stroke-width="1"/>
<path d="M932.5 268V308" stroke="#828282" stroke-width="1"/>
<path d="M939.5 286V306" stroke="#828282" stroke-width="1"/>
<path d="M946.5 290V304" stroke="#828282" stroke-width="1"/>
<path d="M952.5 294V316" stroke="#828282" stroke-width="1"/>
<path d="M959.5 268V320" stroke="#828282" stroke-width="1"/>
<path d="M966.5 239V299" stroke="#828282" stroke-width="1"/>
<path d="M973.5 255V280" stroke="#828282" stroke-width="1"/>
<path d="M980.5 253V279" stroke="#828282" stroke-width="1"/>
<path d="M987.5 260V289" stroke="#828282" stroke-width="1"/>
<path d="M994.5 268V302" stroke="#828282" stroke-width="1"/>
<path d="M1001.5 281V352" stroke="#828282" stroke-width="1"/>
<path d="M1008.5 318V474" stroke="#828282" stroke-width="1"/>
<path d="M1015.5 354V451" stroke="#828282" stroke-width="1"/>
<path d="M1022.5 350V425" stroke="#828282" stroke-width="1"/>
<path d="M1029.5 360V427" stroke="#828282" stroke-width="1"/>
<path d="M1036.5 387V439" stroke="#828282" stroke-width="1"/>
<path d="M1043.5 391V462" stroke="#828282" stroke-width="1"/>
<path d="M1050.5 432V522" stroke="#828282" stroke-width="1"/>
<path d="M1057.5 447V498" stroke="#828282" stroke-width="1"/>
<path d="M1064.5 455V488" stroke="#828282" stroke-width="1"/>
<path d="M1071.5 438V471" stroke="#828282" stroke-width="1"/>
<path d="M1078.5 425V497" stroke="#828282" stroke-width="1"/>
<path d="M1085.5 438V489" stroke="#828282" stroke-width="1"/>
<path d="M1092.5 427V500" stroke="#828282" stroke-width="1"/>
<path d="M1099.5 429V492" stroke="#828282" stroke-width="1"/>
<path d="M1106.5 408V474" stroke="#828282" stroke-width="1"/>
<path d="M1113.5 352V446" stroke="#828282" stroke-width="1"/>
<path d="M1120.5 362V420" stroke="#828282" stroke-width="1"/>
<path d="M1127.5 374V405" stroke="#828282" stroke-width="1"/>
<path d="M1134.5 356V422" stroke="#828282" stroke-width="1"/>
<path d="M1141.5 378V461" stroke="#828282" stroke-width="1"/>
<path d="M1148.5 389V444" stroke="#828282" stroke-width="1"/>
<path d="M1154.5 379V432" stroke="#828282" stroke-width="1"/>
<path d="M1161.5 385V424" stroke="#828282" stroke-width="1"/>
<path d="M1168.5 396V435" stroke="#828282" stroke-width="1"/>
<path d="M1175.5 405V428" stroke="#828282" stroke-width="1"/>
<path d="M1182.5 409V435" stroke="#828282" stroke-width="1"/>
<path d="M1189.5 406V428" stroke="#828282" stroke-width="1"/>
<path d="M1196.5 374V419" stroke="#828282" stroke-width="1"/>
<path d="M1203.5 391V426" stroke="#828282" stroke-width="1"/>
<path d="M1210.5 392V441" stroke="#828282" stroke-width="1"/>
<path d="M1217.5 406V454" stroke="#828282" stroke-width="1"/>
<path d="M1224.5 410V433" stroke="#828282" stroke-width="1"/>
<path d="M1231.5 413V434" stroke="#828282" stroke-width="1"/>
<path d="M1238.5 402V438" stroke="#828282" stroke-width="1"/>
<path d="M1245.5 418V440" stroke="#828282" stroke-width="1"/>
<path d="M1252.5 423V453" stroke="#828282" stroke-width="1"/>
<path d="M1259.5 415V454" stroke="#828282" stroke-width="1"/>
<path d="M1266.5 358V451" stroke="#828282" stroke-width="1"/>
<path d="M1273.5 284V427" stroke="#828282" stroke-width="1"/>
<path d="M1280.5 289V362" stroke="#828282" stroke-width="1"/>
<path d="M1287.5 209V353" stroke="#828282" stroke-width="1"/>
<rect x="10.5" y="409.5" width="4" height="2.0" fill="#e0573f" stroke="#8e3124" stroke-width="1"/>
<rect x="17.5" y="396.5" width="4" height="15.0" fill="#6ea684" stroke="#2e6a43" stroke-width="1"/>
<rect x="24.5" y="396.5" width="4" height="5.0" fill="#e0573f" stroke="#8e3124" stroke-width="1"/>
<rect x="31.5" y="401.5" width="4" height="1.0" fill="#6ea684" stroke="#2e6a43" stroke-width="1"/>
<rect x="38.5" y="401.5" width="4" height="1.0" fill="#6ea684" stroke="#2e6a43" stroke-width="1"/>
<rect x="45.5" y="401.5" width="4" height="5.0" fill="#e0573f" stroke="#8e3124" stroke-width="1"/>
<rect x="52.5" y="406.5" width="4" height="1.0" fill="#6ea684" stroke="#2e6a43" stroke-width="1"/>
<rect x="59.5" y="406.5" width="4" height="5.0" fill="#e0573f" stroke="#8e3124" stroke-width="1"/>
<rect x="66.5" y="407.5" width="4" height="4.0" fill="#6ea684" stroke="#2e6a43" stroke-width="1"/>
<rect x="73.5" y="407.5" width="4" height="8.0" fill="#e0573f" stroke="#8e3124" stroke-width="1"/>
<rect x="80.5" y="415.5" width="4" height="1.0" fill="#e0573f" stroke="#8e3124" stroke-width="1"/>
<rect x="87.5" y="407.5" width="4" height="8.0" fill="#6ea684" stroke="#2e6a43" stroke-width="1"/>
<rect x="94.5" y="403.5" width="4" height="3.0" fill="#6ea684" stroke="#2e6a43" stroke-width="1"/>
<rect x="101.5" y="403.5" width="4" height="1.0" fill="#e0573f" stroke="#8e3124" stroke-width="1"/>
<rect x="108.5" y="400.5" width="4" height="3.0" fill="#6ea684" stroke="#2e6a43" stroke-width="1"/>
<rect x="115.5" y="393.5" width="4" height="6.0" fill="#6ea684" stroke="#2e6a43" stroke-width="1"/>
<rect x="122.5" y="393.5" width="4" height="7.0" fill="#e0573f" stroke="#8e3124" stroke-width="1"/>
<rect x="129.5" y="401.5" width="4" height="8.0" fill="#e0573f" stroke="#8e3124" stroke-width="1"/>
<rect x="136.5" y="409.5" width="4" height="1.0" fill="#6ea684" stroke="#2e6a43" stroke-width="1"/>
<rect x="143.5" y="409.5" width="4" height="8.0" fill="#e0573f" stroke="#8e3124" stroke-width="1"/>
<rect x="150.5" y="414.5" width="4" height="3.0" fill="#6ea684" stroke="#2e6a43" stroke-width="1"/>
<rect x="156.5" y="413.5" width="4" height="1.0" fill="#e0573f" stroke="#8e3124" stroke-width="1"/>
<rect x="163.5" y="411.5" width="4" height="1.0" fill="#6ea684" stroke="#2e6a43" stroke-width="1"/>
<rect x="170.5" y="412.5" width="4" height="7.0" fill="#e0573f" stroke="#8e3124" stroke-width="1"/>
<rect x="177.5" y="419.5" width="4" height="1.0" fill="#6ea684" stroke="#2e6a43" stroke-width="1"/>
<rect x="184.5" y="420.5" width="4" height="8.0" fill="#e0573f" stroke="#8e3124" stroke-width="1"/>
<rect x="191.5" y="424.5" width="4" height="4.0" fill="#6ea684" stroke="#2e6a43" stroke-width="1"/>
<rect x="198.5" y="422.5" width="4" height="1.0" fill="#6ea684" stroke="#2e6a43" stroke-width="1"/>
<rect x="205.5" y="415.5" width="4" height="6.0" fill="#6ea684" stroke="#2e6a43" stroke-width="1"/>
<rect x="212.5" y="415.5" width="4" height="1.0" fill="#e0573f" stroke="#8e3124" stroke-width="1"/>
<rect x="219.5" y="406.5" width="4" height="9.0" fill="#6ea684" stroke="#2e6a43" stroke-width="1"/>
<rect x="226.5" y="407.5" width="4" height="12.0" fill="#e0573f" stroke="#8e3124" stroke-width="1"/>
<rect x="233.5" y="421.5" width="4" height="23.0" fill="#e0573f" stroke="#8e3124" stroke-width="1"/>
<rect x="240.5" y="437.5" width="4" height="8.0" fill="#6ea684" stroke="#2e6a43" stroke-width="1"/>
<rect x="247.5" y="437.5" width="4" height="13.0" fill="#e0573f" stroke="#8e3124" stroke-width="1"/>
<rect x="254.5" y="450.5" width="4" height="1.0" fill="#6ea684" stroke="#2e6a43" stroke-width="1"/>
<rect x="261.5" y="447.5" width="4" height="1.0" fill="#6ea684" stroke="#2e6a43" stroke-width="1"/>
<rect x="268.5" y="447.5" width="4" height="4.0" fill="#e0573f" stroke="#8e3124" stroke-width="1"/>
<rect x="275.5" y="450.5" width="4" height="1.0" fill="#6ea684" stroke="#2e6a43" stroke-width="1"/>
<rect x="282.5" y="446.5" width="4" height="3.0" fill="#6ea684" stroke="#2e6a43" stroke-width="1"/>
<rect x="289.5" y="446.5" width="4" height="1.0" fill="#e0573f" stroke="#8e3124" stroke-width="1"/>
<rect x="296.5" y="443.5" width="4" height="3.0" fill="#6ea684" stroke="#2e6a43" stroke-width="1"/>
<rect x="303.5" y="443.5" width="4" height="3.0" fill="#e0573f" stroke="#8e3124" stroke-width="1"/>
<rect x="310.5" y="445.5" width="4" height="1.0" fill="#6ea684" stroke="#2e6a43" stroke-width="1"/>
<rect x="317.5" y="445.5" width="4" height="1.0" fill="#e0573f" stroke="#8e3124" stroke-width="1"/>
<rect x="324.5" y="443.5" width="4" height="3.0" fill="#6ea684" stroke="#2e6a43" stroke-width="1"/>
<rect x="331.5" y="439.5" width="4" height="4.0" fill="#6ea684" stroke="#2e6a43" stroke-width="1"/>
<rect x="338.5" y="439.5" width="4" height="1.0" fill="#e0573f" stroke="#8e3124" stroke-width="1"/>
<rect x="345.5" y="439.5" width="4" height="1.0" fill="#6ea684" stroke="#2e6a43" stroke-width="1"/>
<rect x="352.5" y="440.5" width="4" height="3.0" fill="#e0573f" stroke="#8e3124" stroke-width="1"/>
<rect x="358.5" y="443.5" width="4" height="13.0" fill="#e0573f" stroke="#8e3124" stroke-width="1"/>
<rect x="365.5" y="455.5" width="4" height="1.0" fill="#6ea684" stroke="#2e6a43" stroke-width="1"/>
<rect x="372.5" y="456.5" width="4" height="8.0" fill="#e0573f" stroke="#8e3124" stroke-width="1"/>
<rect x="379.5" y="456.5" width="4" height="8.0" fill="#6ea684" stroke="#2e6a43" stroke-width="1"/>
<rect x="386.5" y="448.5" width="4" height="7.0" fill="#6ea684" stroke="#2e6a43" stroke-width="1"/>
<rect x="393.5" y="447.5" width="4" height="1.0" fill="#e0573f" stroke="#8e3124" stroke-width="1"/>
<rect x="400.5" y="446.5" width="4" height="1.0" fill="#6ea684" stroke="#2e6a43" stroke-width="1"/>
<rect x="407.5" y="446.5" width="4" height="2.0" fill="#e0573f" stroke="#8e3124" stroke-width="1"/>
<rect x="414.5" y="447.5" width="4" height="1.0" fill="#6ea684" stroke="#2e6a43" stroke-width="1"/>
<rect x="421.5" y="447.5" width="4" height="1.0" fill="#e0573f" stroke="#8e3124" stroke-width="1"/>
<rect x="428.5" y="447.5" width="4" height="3.0" fill="#e0573f" stroke="#8e3124" stroke-width="1"/>
<rect x="435.5" y="451.5" width="4" height="2.0" fill="#e0573f" stroke="#8e3124" stroke-width="1"/>
<rect x="442.5" y="454.5" width="4" height="1.0" fill="#e0573f" stroke="#8e3124" stroke-width="1"/>
<rect x="449.5" y="442.5" width="4" height="13.0" fill="#6ea684" stroke="#2e6a43" stroke-width="1"/>
<rect x="456.5" y="440.5" width="4" height="2.0" fill="#6ea684" stroke="#2e6a43" stroke-width="1"/>
<rect x="463.5" y="440.5" width="4" height="4.0" fill="#e0573f" stroke="#8e3124" stroke-width="1"/>
<rect x="470.5" y="442.5" width="4" height="2.0" fill="#6ea684" stroke="#2e6a43" stroke-width="1"/>
<rect x="477.5" y="440.5" width="4" height="1.0" fill="#6ea684" stroke="#2e6a43" stroke-width="1"/>
<rect x="484.5" y="438.5" width="4" height="1.0" fill="#6ea684" stroke="#2e6a43" stroke-width="1"/>
<rect x="491.5" y="437.5" width="4" height="1.0" fill="#6ea684" stroke="#2e6a43" stroke-width="1"/>
<rect x="498.5" y="436.5" width="4" height="1.0" fill="#6ea684" stroke="#2e6a43" stroke-width="1"/>
<rect x="505.5" y="436.5" width="4" height="1.0" fill="#6ea684" stroke="#2e6a43" stroke-width="1"/>
<rect x="512.5" y="435.5" width="4" height="1.0" fill="#6ea684" stroke="#2e6a43" stroke-width="1"/>
<rect x="519.5" y="435.5" width="4" height="5.0" fill="#e0573f" stroke="#8e3124" stroke-width="1"/>
<rect x="526.5" y="441.5" width="4" height="2.0" fill="#e0573f" stroke="#8e3124" stroke-width="1"/>
<rect x="533.5" y="444.5" width="4" height="4.0" fill="#e0573f" stroke="#8e3124" stroke-width="1"/>
<rect x="540.5" y="448.5" width="4" height="1.0" fill="#6ea684" stroke="#2e6a43" stroke-width="1"/>
<rect x="547.5" y="447.5" width="4" height="1.0" fill="#6ea684" stroke="#2e6a43" stroke-width="1"/>
<rect x="553.5" y="444.5" width="4" height="2.0" fill="#6ea684" stroke="#2e6a43" stroke-width="1"/>
<rect x="560.5" y="445.5" width="4" height="1.0" fill="#e0573f" stroke="#8e3124" stroke-width="1"/>
<rect x="567.5" y="440.5" width="4" height="5.0" fill="#6ea684" stroke="#2e6a43" stroke-width="1"/>
<rect x="574.5" y="435.5" width="4" height="4.0" fill="#6ea684" stroke="#2e6a43" stroke-width="1"/>
<rect x="581.5" y="435.5" width="4" height="1.0" fill="#e0573f" stroke="#8e3124" stroke-width="1"/>
<rect x="588.5" y="435.5" width="4" height="1.0" fill="#6ea684" stroke="#2e6a43" stroke-width="1"/>
<rect x="595.5" y="436.5" width="4" height="1.0" fill="#e0573f" stroke="#8e3124" stroke-width="1"/>
<rect x="602.5" y="438.5" width="4" height="3.0" fill="#e0573f" stroke="#8e3124" stroke-width="1"/>
<rect x="609.5" y="438.5" width="4" height="3.0" fill="#6ea684" stroke="#2e6a43" stroke-width="1"/>
<rect x="616.5" y="438.5" width="4" height="5.0" fill="#e0573f" stroke="#8e3124" stroke-width="1"/>
<rect x="623.5" y="445.5" width="4" height="1.0" fill="#e0573f" stroke="#8e3124" stroke-width="1"/>
<rect x="630.5" y="447.5" width="4" height="2.0" fill="#e0573f" stroke="#8e3124" stroke-width="1"/>
<rect x="637.5" y="449.5" width="4" height="1.0" fill="#6ea684" stroke="#2e6a43" stroke-width="1"/>
<rect x="644.5" y="449.5" width="4" height="1.0" fill="#6ea684" stroke="#2e6a43" stroke-width="1"/>
<rect x="651.5" y="449.5" width="4" height="3.0" fill="#e0573f" stroke="#8e3124" stroke-width="1"/>
<rect x="658.5" y="449.5" width="4" height="3.0" fill="#6ea684" stroke="#2e6a43" stroke-width="1"/>
<rect x="665.5" y="449.5" width="4" height="2.0" fill="#e0573f" stroke="#8e3124" stroke-width="1"/>
<rect x="672.5" y="444.5" width="4" height="6.0" fill="#6ea684" stroke="#2e6a43" stroke-width="1"/>
<rect x="679.5" y="434.5" width="4" height="9.0" fill="#6ea684" stroke="#2e6a43" stroke-width="1"/>
<rect x="686.5" y="434.5" width="4" height="6.0" fill="#e0573f" stroke="#8e3124" stroke-width="1"/>
<rect x="693.5" y="438.5" width="4" height="3.0" fill="#6ea684" stroke="#2e6a43" stroke-width="1"/>
<rect x="700.5" y="438.5" width="4" height="1.0" fill="#e0573f" stroke="#8e3124" stroke-width="1"/>
<rect x="707.5" y="438.5" width="4" height="1.0" fill="#6ea684" stroke="#2e6a43" stroke-width="1"/>
<rect x="714.5" y="435.5" width="4" height="1.0" fill="#6ea684" stroke="#2e6a43" stroke-width="1"/>
<rect x="721.5" y="436.5" width="4" height="1.0" fill="#e0573f" stroke="#8e3124" stroke-width="1"/>
<rect x="728.5" y="428.5" width="4" height="8.0" fill="#6ea684" stroke="#2e6a43" stroke-width="1"/>
<rect x="735.5" y="426.5" width="4" height="1.0" fill="#6ea684" stroke="#2e6a43" stroke-width="1"/>
<rect x="742.5" y="425.5" width="4" height="1.0" fill="#6ea684" stroke="#2e6a43" stroke-width="1"/>
<rect x="749.5" y="412.5" width="4" height="12.0" fill="#6ea684" stroke="#2e6a43" stroke-width="1"/>
<rect x="755.5" y="402.5" width="4" height="8.0" fill="#6ea684" stroke="#2e6a43" stroke-width="1"/>
<rect x="762.5" y="402.5" width="4" height="5.0" fill="#e0573f" stroke="#8e3124" stroke-width="1"/>
<rect x="769.5" y="402.5" width="4" height="4.0" fill="#6ea684" stroke="#2e6a43" stroke-width="1"/>
<rect x="776.5" y="384.5" width="4" height="16.0" fill="#6ea684" stroke="#2e6a43" stroke-width="1"/>
<rect x="783.5" y="314.5" width="4" height="69.0" fill="#6ea684" stroke="#2e6a43" stroke-width="1"/>
<rect x="790.5" y="314.5" width="4" height="7.0" fill="#e0573f" stroke="#8e3124" stroke-width="1"/>
<rect x="797.5" y="255.5" width="4" height="66.0" fill="#6ea684" stroke="#2e6a43" stroke-width="1"/>
<rect x="804.5" y="231.5" width="4" height="23.0" fill="#6ea684" stroke="#2e6a43" stroke-width="1"/>
<rect x="811.5" y="231.5" width="4" height="18.0" fill="#e0573f" stroke="#8e3124" stroke-width="1"/>
<rect x="818.5" y="251.5" width="4" height="31.0" fill="#e0573f" stroke="#8e3124" stroke-width="1"/>
<rect x="825.5" y="274.5" width="4" height="8.0" fill="#6ea684" stroke="#2e6a43" stroke-width="1"/>
<rect x="832.5" y="252.5" width="4" height="20.0" fill="#6ea684" stroke="#2e6a43" stroke-width="1"/>
<rect x="839.5" y="252.5" width="4" height="5.0" fill="#e0573f" stroke="#8e3124" stroke-width="1"/>
<rect x="846.5" y="240.5" width="4" height="17.0" fill="#6ea684" stroke="#2e6a43" stroke-width="1"/>
<rect x="853.5" y="240.5" width="4" height="15.0" fill="#e0573f" stroke="#8e3124" stroke-width="1"/>
<rect x="860.5" y="250.5" width="4" height="5.0" fill="#6ea684" stroke="#2e6a43" stroke-width="1"/>
<rect x="867.5" y="250.5" width="4" height="1.0" fill="#6ea684" stroke="#2e6a43" stroke-width="1"/>
<rect x="874.5" y="251.5" width="4" height="25.0" fill="#e0573f" stroke="#8e3124" stroke-width="1"/>
<rect x="881.5" y="266.5" width="4" height="10.0" fill="#6ea684" stroke="#2e6a43" stroke-width="1"/>
<rect x="888.5" y="253.5" width="4" height="12.0" fill="#6ea684" stroke="#2e6a43" stroke-width="1"/>
<rect x="895.5" y="253.5" width="4" height="3.0" fill="#e0573f" stroke="#8e3124" stroke-width="1"/>
<rect x="902.5" y="258.5" width="4" height="16.0" fill="#e0573f" stroke="#8e3124" stroke-width="1"/>
<rect x="909.5" y="267.5" width="4" height="7.0" fill="#6ea684" stroke="#2e6a43" stroke-width="1"/>
<rect x="916.5" y="267.5" width="4" height="2.0" fill="#e0573f" stroke="#8e3124" stroke-width="1"/>
<rect x="923.5" y="270.5" width="4" height="7.0" fill="#e0573f" stroke="#8e3124" stroke-width="1"/>
<rect x="930.5" y="279.5" width="4" height="15.0" fill="#e0573f" stroke="#8e3124" stroke-width="1"/>
<rect x="937.5" y="293.5" width="4" height="1.0" fill="#6ea684" stroke="#2e6a43" stroke-width="1"/>
<rect x="944.5" y="293.5" width="4" height="5.0" fill="#e0573f" stroke="#8e3124" stroke-width="1"/>
<rect x="950.5" y="299.5" width="4" height="12.0" fill="#e0573f" stroke="#8e3124" stroke-width="1"/>
<rect x="957.5" y="271.5" width="4" height="40.0" fill="#6ea684" stroke="#2e6a43" stroke-width="1"/>
<rect x="964.5" y="268.5" width="4" height="3.0" fill="#6ea684" stroke="#2e6a43" stroke-width="1"/>
<rect x="971.5" y="266.5" width="4" height="1.0" fill="#6ea684" stroke="#2e6a43" stroke-width="1"/>
<rect x="978.5" y="266.5" width="4" height="1.0" fill="#e0573f" stroke="#8e3124" stroke-width="1"/>
<rect x="985.5" y="268.5" width="4" height="8.0" fill="#e0573f" stroke="#8e3124" stroke-width="1"/>
<rect x="992.5" y="277.5" width="4" height="14.0" fill="#e0573f" stroke="#8e3124" stroke-width="1"/>
<rect x="999.5" y="292.5" width="4" height="27.0" fill="#e0573f" stroke="#8e3124" stroke-width="1"/>
<rect x="1006.5" y="322.5" width="4" height="108.0" fill="#e0573f" stroke="#8e3124" stroke-width="1"/>
<rect x="1013.5" y="378.5" width="4" height="53.0" fill="#6ea684" stroke="#2e6a43" stroke-width="1"/>
<rect x="1020.5" y="378.5" width="4" height="12.0" fill="#e0573f" stroke="#8e3124" stroke-width="1"/>
<rect x="1027.5" y="392.5" width="4" height="15.0" fill="#e0573f" stroke="#8e3124" stroke-width="1"/>
<rect x="1034.5" y="407.5" width="4" height="6.0" fill="#e0573f" stroke="#8e3124" stroke-width="1"/>
<rect x="1041.5" y="415.5" width="4" height="26.0" fill="#e0573f" stroke="#8e3124" stroke-width="1"/>
<rect x="1048.5" y="442.5" width="4" height="23.0" fill="#e0573f" stroke="#8e3124" stroke-width="1"/>
<rect x="1055.5" y="466.5" width="4" height="8.0" fill="#e0573f" stroke="#8e3124" stroke-width="1"/>
<rect x="1062.5" y="468.5" width="4" height="6.0" fill="#6ea684" stroke="#2e6a43" stroke-width="1"/>
<rect x="1069.5" y="451.5" width="4" height="14.0" fill="#6ea684" stroke="#2e6a43" stroke-width="1"/>
<rect x="1076.5" y="451.5" width="4" height="14.0" fill="#e0573f" stroke="#8e3124" stroke-width="1"/>
<rect x="1083.5" y="462.5" width="4" height="3.0" fill="#6ea684" stroke="#2e6a43" stroke-width="1"/>
<rect x="1090.5" y="453.5" width="4" height="8.0" fill="#6ea684" stroke="#2e6a43" stroke-width="1"/>
<rect x="1097.5" y="453.5" width="4" height="7.0" fill="#e0573f" stroke="#8e3124" stroke-width="1"/>
<rect x="1104.5" y="442.5" width="4" height="18.0" fill="#6ea684" stroke="#2e6a43" stroke-width="1"/>
<rect x="1111.5" y="387.5" width="4" height="53.0" fill="#6ea684" stroke="#2e6a43" stroke-width="1"/>
<rect x="1118.5" y="387.5" width="4" height="1.0" fill="#e0573f" stroke="#8e3124" stroke-width="1"/>
<rect x="1125.5" y="387.5" width="4" height="1.0" fill="#6ea684" stroke="#2e6a43" stroke-width="1"/>
<rect x="1132.5" y="387.5" width="4" height="6.0" fill="#e0573f" stroke="#8e3124" stroke-width="1"/>
<rect x="1139.5" y="394.5" width="4" height="17.0" fill="#e0573f" stroke="#8e3124" stroke-width="1"/>
<rect x="1146.5" y="409.5" width="4" height="2.0" fill="#6ea684" stroke="#2e6a43" stroke-width="1"/>
<rect x="1152.5" y="400.5" width="4" height="8.0" fill="#6ea684" stroke="#2e6a43" stroke-width="1"/>
<rect x="1159.5" y="400.5" width="4" height="5.0" fill="#e0573f" stroke="#8e3124" stroke-width="1"/>
<rect x="1166.5" y="406.5" width="4" height="11.0" fill="#e0573f" stroke="#8e3124" stroke-width="1"/>
<rect x="1173.5" y="418.5" width="4" height="1.0" fill="#e0573f" stroke="#8e3124" stroke-width="1"/>
<rect x="1180.5" y="418.5" width="4" height="1.0" fill="#e0573f" stroke="#8e3124" stroke-width="1"/>
<rect x="1187.5" y="414.5" width="4" height="5.0" fill="#6ea684" stroke="#2e6a43" stroke-width="1"/>
<rect x="1194.5" y="407.5" width="4" height="5.0" fill="#6ea684" stroke="#2e6a43" stroke-width="1"/>
<rect x="1201.5" y="406.5" width="4" height="1.0" fill="#6ea684" stroke="#2e6a43" stroke-width="1"/>
<rect x="1208.5" y="406.5" width="4" height="19.0" fill="#e0573f" stroke="#8e3124" stroke-width="1"/>
<rect x="1215.5" y="423.5" width="4" height="2.0" fill="#6ea684" stroke="#2e6a43" stroke-width="1"/>
<rect x="1222.5" y="423.5" width="4" height="1.0" fill="#e0573f" stroke="#8e3124" stroke-width="1"/>
<rect x="1229.5" y="422.5" width="4" height="1.0" fill="#6ea684" stroke="#2e6a43" stroke-width="1"/>
<rect x="1236.5" y="423.5" width="4" height="2.0" fill="#e0573f" stroke="#8e3124" stroke-width="1"/>
<rect x="1243.5" y="426.5" width="4" height="1.0" fill="#6ea684" stroke="#2e6a43" stroke-width="1"/>
<rect x="1250.5" y="426.5" width="4" height="13.0" fill="#e0573f" stroke="#8e3124" stroke-width="1"/>
<rect x="1257.5" y="429.5" width="4" height="10.0" fill="#6ea684" stroke="#2e6a43" stroke-width="1"/>
<rect x="1264.5" y="416.5" width="4" height="12.0" fill="#6ea684" stroke="#2e6a43" stroke-width="1"/>
<rect x="1271.5" y="323.5" width="4" height="92.0" fill="#6ea684" stroke="#2e6a43" stroke-width="1"/>
<rect x="1278.5" y="300.5" width="4" height="21.0" fill="#6ea684" stroke="#2e6a43" stroke-width="1"/>
<rect x="1285.5" y="300.5" width="4" height="27.0" fill="#e0573f" stroke="#8e3124" stroke-width="1"/>
</g>
<g clip-path="url(#pane2)">
<path d="M12.8 691.2 L19.8 686.1 L26.8 699.6 L33.7 699.1 L40.7 699.1 L47.6 713.2 L54.6 713.2 L61.6 725.0 L68.5 720.8 L75.5 737.4 L82.5 738.6 L89.4 729.2 L96.4 725.0 L103.4 727.5 L110.3 723.8 L117.3 716.5 L124.3 734.3 L131.2 751.2 L138.2 749.2 L145.2 762.8 L152.1 757.2 L159.1 758.4 L166.1 754.3 L173.0 767.3 L180.0 767.8 L187.0 779.2 L193.9 771.2 L200.9 769.0 L207.8 758.9 L214.8 760.6 L221.8 747.5 L228.7 766.5 L235.7 790.5 L242.7 781.7 L249.6 791.5 L256.6 789.3 L263.6 787.1 L270.5 791.0 L277.5 787.1 L284.5 783.4 L291.4 783.7 L298.4 778.0 L305.4 783.1 L312.3 778.7 L319.3 780.9 L326.2 776.3 L333.2 769.5 L340.2 771.2 L347.1 770.7 L354.1 776.3 L361.1 792.7 L368.0 788.8 L375.0 799.5 L382.0 782.6 L388.9 771.6 L395.9 771.9 L402.9 769.5 L409.8 772.4 L416.8 769.5 L423.8 770.7 L430.7 775.8 L437.7 780.9 L444.7 782.6 L451.6 759.4 L458.6 756.3 L465.6 762.8 L472.5 758.9 L479.5 755.0 L486.4 752.6 L493.4 750.4 L500.4 748.7 L507.3 747.9 L514.3 747.0 L521.3 762.8 L528.2 769.5 L535.2 779.7 L542.2 778.7 L549.1 774.1 L556.1 766.8 L563.1 771.6 L570.0 756.3 L577.0 745.3 L584.0 750.9 L590.9 748.2 L597.9 755.5 L604.9 766.1 L611.8 757.2 L618.8 771.6 L625.7 776.3 L632.7 782.6 L639.7 780.4 L646.6 780.4 L653.6 788.1 L660.6 777.0 L667.5 781.4 L674.5 762.2 L681.5 741.9 L688.4 760.0 L695.4 752.9 L702.4 758.9 L709.3 753.8 L716.3 749.9 L723.3 752.9 L730.2 738.0 L737.2 734.3 L744.2 733.0 L751.1 715.7 L758.1 705.9 L765.0 723.3 L772.0 715.7 L779.0 703.5 L785.9 679.8 L792.9 692.9 L799.9 679.3 L806.8 676.4 L813.8 699.6 L820.8 731.3 L827.7 727.9 L834.7 719.9 L841.7 725.9 L848.6 719.1 L855.6 733.5 L862.6 730.1 L869.5 730.6 L876.5 749.9 L883.5 744.5 L890.4 739.1 L897.4 742.8 L904.3 754.3 L911.3 749.9 L918.3 752.6 L925.2 758.0 L932.2 767.8 L939.2 766.5 L946.1 770.2 L953.1 776.6 L960.1 753.3 L967.0 752.1 L974.0 750.4 L981.0 752.6 L987.9 758.4 L994.9 769.0 L1001.9 783.7 L1008.8 808.7 L1015.8 791.0 L1022.8 793.9 L1029.7 796.8 L1036.7 798.3 L1043.6 802.1 L1050.6 805.4 L1057.6 806.7 L1064.5 804.0 L1071.5 798.7 L1078.5 801.6 L1085.4 799.6 L1092.4 796.4 L1099.4 798.3 L1106.3 790.6 L1113.3 767.9 L1120.3 768.9 L1127.2 767.6 L1134.2 770.8 L1141.2 777.5 L1148.1 776.0 L1155.1 771.4 L1162.0 774.7 L1169.0 779.5 L1176.0 779.9 L1182.9 780.4 L1189.9 776.6 L1196.9 772.2 L1203.8 771.8 L1210.8 782.3 L1217.8 779.9 L1224.7 780.4 L1231.7 779.5 L1238.7 782.3 L1245.6 781.4 L1252.6 789.5 L1259.6 779.5 L1266.5 768.9 L1273.5 718.0 L1280.5 710.0 L1287.4 736.3" stroke="#9b2ba9" stroke-width="1.5" fill="none" stroke-linejoin="round"/>
</g>
<rect x="7.5" y="49.5" width="1520.5" height="798.5" fill="none" stroke="#5a5a5a" stroke-width="1.3"/>
<path d="M1444.5 49V848 M7 667.5H1528 M7 818H1528" stroke="#5a5a5a" stroke-width="1.3"/>
<text x="1454" y="62.7" font-family='"Liberation Sans", sans-serif' font-size="11.9" fill="#5b5b5b" textLength="63" lengthAdjust="spacingAndGlyphs">1.60000000</text>
<text x="1454" y="105.4" font-family='"Liberation Sans", sans-serif' font-size="11.9" fill="#5b5b5b" textLength="63" lengthAdjust="spacingAndGlyphs">1.30000000</text>
<text x="1454" y="139.8" font-family='"Liberation Sans", sans-serif' font-size="11.9" fill="#5b5b5b" textLength="63" lengthAdjust="spacingAndGlyphs">1.10000000</text>
<text x="1454" y="181.1" font-family='"Liberation Sans", sans-serif' font-size="11.9" fill="#5b5b5b" textLength="63" lengthAdjust="spacingAndGlyphs">0.90000000</text>
<text x="1454" y="218.6" font-family='"Liberation Sans", sans-serif' font-size="11.9" fill="#5b5b5b" textLength="63" lengthAdjust="spacingAndGlyphs">0.75000000</text>
<text x="1454" y="264.5" font-family='"Liberation Sans", sans-serif' font-size="11.9" fill="#5b5b5b" textLength="63" lengthAdjust="spacingAndGlyphs">0.60000000</text>
<text x="1454" y="302.0" font-family='"Liberation Sans", sans-serif' font-size="11.9" fill="#5b5b5b" textLength="63" lengthAdjust="spacingAndGlyphs">0.50000000</text>
<text x="1454" y="347.9" font-family='"Liberation Sans", sans-serif' font-size="11.9" fill="#5b5b5b" textLength="63" lengthAdjust="spacingAndGlyphs">0.40000000</text>
<text x="1454" y="381.3" font-family='"Liberation Sans", sans-serif' font-size="11.9" fill="#5b5b5b" textLength="63" lengthAdjust="spacingAndGlyphs">0.34000000</text>
<text x="1454" y="470.8" font-family='"Liberation Sans", sans-serif' font-size="11.9" fill="#5b5b5b" textLength="63" lengthAdjust="spacingAndGlyphs">0.22000000</text>
<text x="1454" y="512.1" font-family='"Liberation Sans", sans-serif' font-size="11.9" fill="#5b5b5b" textLength="63" lengthAdjust="spacingAndGlyphs">0.18000000</text>
<text x="1454" y="549.6" font-family='"Liberation Sans", sans-serif' font-size="11.9" fill="#5b5b5b" textLength="63" lengthAdjust="spacingAndGlyphs">0.15000000</text>
<text x="1454" y="587.1" font-family='"Liberation Sans", sans-serif' font-size="11.9" fill="#5b5b5b" textLength="63" lengthAdjust="spacingAndGlyphs">0.12500000</text>
<text x="1454" y="623.0" font-family='"Liberation Sans", sans-serif' font-size="11.9" fill="#5b5b5b" textLength="63" lengthAdjust="spacingAndGlyphs">0.10500000</text>
<text x="1454" y="657.0" font-family='"Liberation Sans", sans-serif' font-size="11.9" fill="#5b5b5b" textLength="63" lengthAdjust="spacingAndGlyphs">0.08900000</text>
<text x="1454" y="706.7" font-family='"Liberation Sans", sans-serif' font-size="11.9" fill="#5b5b5b">80.00</text>
<text x="1454" y="747.7" font-family='"Liberation Sans", sans-serif' font-size="11.9" fill="#5b5b5b">60.00</text>
<text x="1454" y="788.7" font-family='"Liberation Sans", sans-serif' font-size="11.9" fill="#5b5b5b">40.00</text>
<text x="116.7" y="838" text-anchor="middle" font-family='"Liberation Sans", sans-serif' font-size="12" font-weight="normal" fill="#5b5b5b">17</text>
<text x="221.2" y="838" text-anchor="middle" font-family='"Liberation Sans", sans-serif' font-size="12" font-weight="normal" fill="#5b5b5b">Sep</text>
<text x="311.7" y="838" text-anchor="middle" font-family='"Liberation Sans", sans-serif' font-size="12" font-weight="normal" fill="#5b5b5b">14</text>
<text x="430.1" y="838" text-anchor="middle" font-family='"Liberation Sans", sans-serif' font-size="12" font-weight="normal" fill="#5b5b5b">Oct</text>
<text x="555.5" y="838" text-anchor="middle" font-family='"Liberation Sans", sans-serif' font-size="12" font-weight="normal" fill="#5b5b5b">19</text>
<text x="646.0" y="838" text-anchor="middle" font-family='"Liberation Sans", sans-serif' font-size="12" font-weight="normal" fill="#5b5b5b">Nov</text>
<text x="750.5" y="838" text-anchor="middle" font-family='"Liberation Sans", sans-serif' font-size="12" font-weight="normal" fill="#5b5b5b">16</text>
<text x="855.0" y="838" text-anchor="middle" font-family='"Liberation Sans", sans-serif' font-size="12" font-weight="normal" fill="#5b5b5b">Dec</text>
<text x="945.5" y="838" text-anchor="middle" font-family='"Liberation Sans", sans-serif' font-size="12" font-weight="normal" fill="#5b5b5b">14</text>
<text x="1070.9" y="838" text-anchor="middle" font-family='"Liberation Sans", sans-serif' font-size="12" font-weight="bold" fill="#5b5b5b">2021</text>
<text x="1189.3" y="838" text-anchor="middle" font-family='"Liberation Sans", sans-serif' font-size="12" font-weight="normal" fill="#5b5b5b">18</text>
<text x="1286.8" y="838" text-anchor="middle" font-family='"Liberation Sans", sans-serif' font-size="12" font-weight="normal" fill="#5b5b5b">Feb</text>
<text x="1384.3" y="838" text-anchor="middle" font-family='"Liberation Sans", sans-serif' font-size="12" font-weight="normal" fill="#5b5b5b">15</text>
<path d="M1445 58.5H1450 M1445 101.5H1450 M1445 135.5H1450 M1445 176.5H1450 M1445 214.5H1450 M1445 260.5H1450 M1445 297.5H1450 M1445 343.5H1450 M1445 376.5H1450 M1445 466.5H1450 M1445 507.5H1450 M1445 545.5H1450 M1445 582.5H1450 M1445 618.5H1450 M1445 652.5H1450 M1445 702.4H1450 M1445 743.4H1450 M1445 784.4H1450 M116.5 818V822.5 M221.5 818V822.5 M311.5 818V822.5 M430.5 818V822.5 M555.5 818V822.5 M646.5 818V822.5 M750.5 818V822.5 M855.5 818V822.5 M945.5 818V822.5 M1070.5 818V822.5 M1189.5 818V822.5 M1286.5 818V822.5 M1384.5 818V822.5" stroke="#5a5a5a" stroke-width="1"/>
<rect x="1469.5" y="57.5" width="32.5" height="20.5" rx="3.5" fill="#f2e0cf" stroke="#dcd6d2" stroke-width="1" stroke-dasharray="1 1"/>
<text x="1486" y="72.2" text-anchor="middle" font-family='"Liberation Sans", sans-serif' font-size="13.4" fill="#5b5b5b" textLength="23" lengthAdjust="spacingAndGlyphs">USD</text>
<rect x="1444" y="319" width="83" height="19" fill="#df5a46"/>
<text x="1454" y="332.6" font-family='"Liberation Sans", sans-serif' font-size="11.9" fill="#ffffff" textLength="63" lengthAdjust="spacingAndGlyphs">0.43017413</text>
<rect x="1464" y="339" width="63" height="19.5" fill="#df5a46"/>
<text x="1468.5" y="353.5" font-family='"Liberation Sans", sans-serif' font-size="11.9" fill="#ffffff" textLength="48.5" lengthAdjust="spacingAndGlyphs">08:03:14</text>
<rect x="1444" y="387" width="83" height="38" fill="#000000"/>
<text x="1454" y="400.5" font-family='"Liberation Sans", sans-serif' font-size="11.9" fill="#ffffff" textLength="63" lengthAdjust="spacingAndGlyphs">0.30984650</text>
<text x="1454" y="419.5" font-family='"Liberation Sans", sans-serif' font-size="11.9" fill="#ffffff" textLength="63" lengthAdjust="spacingAndGlyphs">0.28613229</text>
<text x="17.4" y="73.3" font-family='"Liberation Sans", sans-serif' font-size="13.5" font-weight="bold" fill="#5b5b5b" textLength="201" lengthAdjust="spacingAndGlyphs">XRP / U.S. Dollar, 1D, BINANCE</text>
<text x="17.4" y="92.5" font-family='"Liberation Sans", sans-serif' font-size="13.5" fill="#5b5b5b" textLength="20.5" lengthAdjust="spacingAndGlyphs">Vol</text>
<text x="17.4" y="112" font-family='"Liberation Sans", sans-serif' font-size="13.5" fill="#5b5b5b" textLength="91.2" lengthAdjust="spacingAndGlyphs">MA (50, close)</text>
<text x="17.4" y="131.3" font-family='"Liberation Sans", sans-serif' font-size="13.5" fill="#5b5b5b" textLength="114.1" lengthAdjust="spacingAndGlyphs">MA (200, close, 0)</text>
<text x="17" y="692" font-family='"Liberation Sans", sans-serif' font-size="13.5" fill="#5b5b5b" textLength="89" lengthAdjust="spacingAndGlyphs">RSI (14, close)</text>
<text x="7.6" y="18.5" font-family='"Liberation Sans", sans-serif' font-size="13.8" font-weight="bold" fill="#2e2e2e" textLength="88.9" lengthAdjust="spacingAndGlyphs">bitcoinwallah</text>
<text x="101.8" y="18.5" font-family='"Liberation Sans", sans-serif' font-size="13.8" font-weight="normal" fill="#2e2e2e" textLength="411.2" lengthAdjust="spacingAndGlyphs">published on TradingView.com, February 01, 2021 10:56:48 EST</text>
<text x="7.6" y="37.6" font-family='"Liberation Sans", sans-serif' font-size="13.8" font-weight="bold" fill="#2e2e2e" textLength="142.7" lengthAdjust="spacingAndGlyphs">BINANCE:XRPUSD, 1D</text>
<text x="156.8" y="37.6" font-family='"Liberation Sans", sans-serif' font-size="13.8" font-weight="normal" fill="#2e2e2e" textLength="74.9" lengthAdjust="spacingAndGlyphs">0.43017413</text>
<path d="M236 28.3H247.3L241.65 38.9Z" fill="#e0574a"/>
<text x="251.9" y="37.6" font-family='"Liberation Sans", sans-serif' font-size="13.8" font-weight="normal" fill="#2e2e2e" textLength="151" lengthAdjust="spacingAndGlyphs">−0.06595233 (−13.29%)</text>
<text x="408.7" y="37.6" font-family='"Liberation Sans", sans-serif' font-size="13.8" font-weight="bold" fill="#2e2e2e" textLength="14" lengthAdjust="spacingAndGlyphs">O:</text>
<text x="424.7" y="37.6" font-family='"Liberation Sans", sans-serif' font-size="13.8" font-weight="normal" fill="#e0574a" textLength="74.9" lengthAdjust="spacingAndGlyphs">0.49566149</text>
<text x="505.8" y="37.6" font-family='"Liberation Sans", sans-serif' font-size="13.8" font-weight="bold" fill="#2e2e2e" textLength="12.9" lengthAdjust="spacingAndGlyphs">H:</text>
<text x="521.1" y="37.6" font-family='"Liberation Sans", sans-serif' font-size="13.8" font-weight="normal" fill="#e0574a" textLength="74.9" lengthAdjust="spacingAndGlyphs">0.77079406</text>
<text x="601.6" y="37.6" font-family='"Liberation Sans", sans-serif' font-size="13.8" font-weight="bold" fill="#2e2e2e" textLength="10" lengthAdjust="spacingAndGlyphs">L:</text>
<text x="613.9" y="37.6" font-family='"Liberation Sans", sans-serif' font-size="13.8" font-weight="normal" fill="#e0574a" textLength="74.8" lengthAdjust="spacingAndGlyphs">0.38411616</text>
<text x="694.6" y="37.6" font-family='"Liberation Sans", sans-serif' font-size="13.8" font-weight="bold" fill="#2e2e2e" textLength="11.6" lengthAdjust="spacingAndGlyphs">C:</text>
<text x="708.7" y="37.6" font-family='"Liberation Sans", sans-serif' font-size="13.8" font-weight="normal" fill="#e0574a" textLength="74.3" lengthAdjust="spacingAndGlyphs">0.43017413</text>
<g transform="translate(7,860)"><g fill="#3a8ee2"><circle cx="12.5" cy="8.8" r="8.1"/><circle cx="23.6" cy="12" r="6.3"/><circle cx="5.2" cy="13" r="5"/><rect x="0.2" y="12" width="29.6" height="5.9" rx="2.5"/><rect x="4" y="9" width="22" height="8.9"/></g><path d="M1.2 15.4 L11 7.6 L18 14.1 L25.4 6.3" stroke="#ffffff" stroke-width="1.2" fill="none"/><circle cx="11" cy="7.6" r="2.2" fill="#fff"/><circle cx="18" cy="14.1" r="2.2" fill="#fff"/></g>
<text x="38.9" y="873.9" font-family='"Liberation Sans", sans-serif' font-size="14.6" font-weight="normal" fill="#333333" textLength="80.4" lengthAdjust="spacingAndGlyphs">TradingView</text>
</svg></body></html>
